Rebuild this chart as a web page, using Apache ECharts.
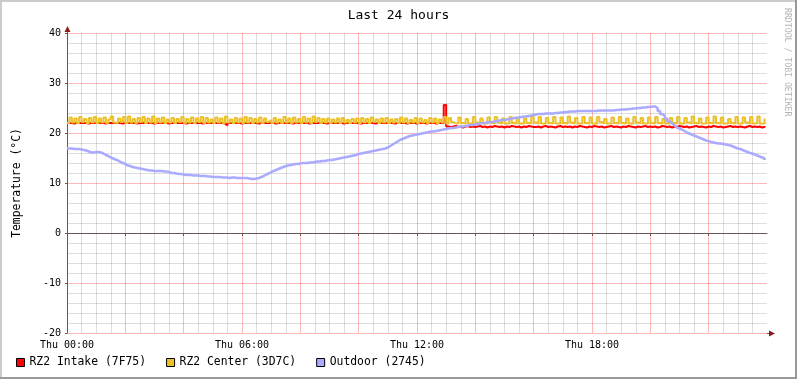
<!DOCTYPE html>
<html>
<head>
<meta charset="utf-8">
<script src="https://cdn.jsdelivr.net/npm/echarts@6/dist/echarts.min.js"></script>
<style>
html,body{margin:0;padding:0;background:#fff;}
#c{width:797px;height:379px;}
</style>
</head>
<body>
<div id="c"></div>
<script>
// ---- data (5-minute samples, 00:00 .. 23:55) ----
const titleText = 'Last 24 hours';
const yAxisTitle = 'Temperature (°C)';
const seriesNames = ['RZ2 Intake (7F75)', 'RZ2 Center (3D7C)', 'Outdoor (2745)'];
const xTickLabels = ['Thu 00:00', 'Thu 06:00', 'Thu 12:00', 'Thu 18:00'];
const stepMinutes = 5;

const intake = [
22.0,22.0,21.9,22.0,22.0,22.0,22.0,22.0,21.9,22.0,22.0,22.0,
22.0,22.0,22.0,21.9,22.0,22.0,22.0,22.0,22.0,22.0,21.9,22.0,
22.0,22.0,22.0,22.0,21.9,22.0,22.0,22.0,22.0,22.0,22.0,21.9,
22.0,22.0,22.0,22.0,22.0,21.9,22.0,22.0,22.0,22.0,22.0,22.0,
21.9,22.0,22.0,22.0,22.0,22.0,22.0,21.9,22.0,22.0,22.0,22.0,
22.0,22.0,22.0,22.0,21.9,21.5,22.0,22.0,22.0,22.0,22.0,21.9,
22.0,22.0,22.0,22.0,22.0,22.0,21.9,22.0,22.0,22.0,22.0,22.0,
22.0,21.9,22.0,22.0,22.0,22.0,22.0,22.0,21.9,22.0,22.0,22.0,
22.0,22.0,22.0,21.9,22.0,22.0,22.0,22.0,22.0,22.0,21.9,22.0,
22.0,22.0,22.0,22.0,22.0,21.9,22.0,22.0,22.0,22.0,22.0,22.0,
21.9,22.0,22.0,22.0,22.0,22.0,21.9,22.0,22.0,22.0,22.0,22.0,
22.0,22.0,21.9,22.0,22.0,22.0,22.0,21.9,22.0,22.0,22.0,21.9,
22.0,22.0,22.0,21.9,22.0,22.0,22.0,21.9,22.0,22.0,22.0,25.6,
21.3,21.2,21.3,21.4,21.2,21.3,21.1,21.3,21.4,21.2,21.3,21.2,
21.3,21.4,21.2,21.3,21.1,21.3,21.2,21.4,21.3,21.2,21.3,21.1,
21.3,21.2,21.4,21.3,21.2,21.3,21.1,21.3,21.2,21.4,21.3,21.2,
21.2,21.3,21.1,21.3,21.4,21.2,21.3,21.2,21.1,21.3,21.4,21.2,
21.3,21.2,21.3,21.1,21.3,21.2,21.4,21.3,21.2,21.1,21.3,21.2,
21.4,21.3,21.2,21.3,21.1,21.2,21.3,21.4,21.2,21.3,21.2,21.1,
21.3,21.2,21.4,21.3,21.2,21.1,21.3,21.2,21.3,21.4,21.2,21.3,
21.2,21.3,21.1,21.2,21.4,21.3,21.2,21.3,21.1,21.3,21.2,21.4,
21.3,21.2,21.3,21.1,21.2,21.3,21.4,21.2,21.3,21.2,21.1,21.3,
21.2,21.4,21.3,21.2,21.3,21.1,21.2,21.3,21.4,21.2,21.3,21.2,
21.3,21.2,21.1,21.3,21.4,21.2,21.3,21.2,21.3,21.1,21.2,21.4
];

const center = [
22.0,23.1,22.1,22.9,22.0,23.2,22.2,22.8,22.0,23.0,22.1,23.2,
22.0,22.9,22.1,23.1,22.0,22.7,23.3,22.1,22.0,22.9,22.2,23.2,
22.0,23.3,22.1,22.8,22.0,23.0,22.2,23.2,22.0,22.9,22.1,23.3,
22.0,22.9,22.1,23.1,22.0,22.7,22.1,23.0,22.0,22.8,22.2,23.2,
22.0,22.8,22.1,23.1,22.0,22.9,22.2,23.2,22.0,23.0,22.1,22.7,
22.0,23.1,22.1,22.9,22.0,23.3,22.1,22.7,22.0,23.0,22.1,22.9,
22.0,23.2,22.1,23.0,22.0,22.8,22.1,23.1,22.0,22.9,22.2,22.6,
22.0,23.0,22.1,22.7,22.0,23.2,22.1,22.9,22.0,23.1,22.1,22.8,
22.0,23.2,22.1,22.9,22.0,23.3,22.2,23.0,22.0,22.8,22.1,22.9,
22.0,22.7,22.1,22.9,22.0,23.0,22.1,22.6,22.0,22.8,22.1,22.9,
22.0,23.0,22.1,22.8,22.0,23.1,22.2,22.7,22.0,22.9,22.1,23.0,
22.0,22.7,22.1,22.8,22.0,23.1,22.1,22.9,22.0,22.6,22.1,23.0,
22.0,22.9,22.1,22.6,22.0,23.0,22.1,22.9,22.0,22.7,22.1,23.2,
21.9,23.0,22.2,21.9,21.9,23.1,22.0,21.9,22.8,21.9,21.9,23.2,
22.1,21.9,22.9,21.9,21.9,23.1,22.0,21.9,23.2,22.1,21.9,22.9,
21.9,21.9,23.2,22.0,21.9,23.1,21.9,21.9,22.9,22.0,21.9,23.3,
22.1,21.9,23.2,21.9,21.9,23.0,22.0,21.9,23.2,21.9,21.9,23.1,
22.0,21.9,23.3,22.1,21.9,23.0,21.9,21.9,23.2,22.0,21.9,23.1,
21.9,21.9,23.2,22.2,21.9,22.8,21.9,21.9,23.1,22.0,21.9,23.2,
22.0,21.9,22.9,21.9,21.9,23.2,22.1,21.9,23.0,21.9,21.9,23.1,
22.0,21.9,23.2,22.0,21.9,22.8,21.9,21.9,23.0,22.0,21.9,23.2,
21.9,21.9,23.0,22.1,21.9,23.3,22.0,21.9,22.9,21.9,21.9,23.1,
22.0,21.9,23.3,22.0,21.9,23.1,21.9,21.9,22.8,22.0,21.9,23.2,
21.9,21.9,23.1,22.1,21.9,23.2,21.9,22.0,23.3,21.9,21.9,22.9
];

const outdoor = [
16.9,16.9,16.8,16.8,16.8,16.7,16.6,16.5,16.3,16.1,16.1,16.2,
16.2,16.1,15.9,15.6,15.4,15.1,14.9,14.7,14.5,14.2,14.0,13.8,
13.5,13.4,13.2,13.1,13.0,12.9,12.8,12.7,12.6,12.5,12.5,12.4,
12.4,12.4,12.4,12.3,12.3,12.2,12.0,12.0,11.9,11.8,11.8,11.7,
11.6,11.6,11.6,11.5,11.5,11.5,11.4,11.4,11.4,11.3,11.3,11.2,
11.2,11.2,11.2,11.1,11.1,11.1,11.0,11.1,11.1,11.0,11.0,11.0,
11.0,11.0,10.9,10.8,10.8,10.9,11.0,11.2,11.4,11.7,11.9,12.2,
12.4,12.6,12.8,13.0,13.2,13.4,13.5,13.6,13.7,13.8,13.8,13.9,
14.0,14.0,14.0,14.1,14.1,14.2,14.3,14.3,14.4,14.4,14.5,14.6,
14.6,14.7,14.8,14.9,15.0,15.1,15.2,15.3,15.4,15.5,15.6,15.8,
15.9,16.0,16.1,16.2,16.3,16.4,16.5,16.6,16.7,16.8,16.9,17.1,
17.4,17.7,18.0,18.3,18.6,18.8,19.0,19.2,19.4,19.5,19.6,19.7,
19.8,19.9,20.0,20.1,20.2,20.3,20.3,20.4,20.5,20.6,20.7,20.8,
20.9,21.0,21.0,21.1,21.2,21.3,21.3,21.4,21.5,21.6,21.6,21.7,
21.8,21.9,22.0,22.0,22.1,22.2,22.2,22.3,22.4,22.5,22.6,22.6,
22.7,22.8,22.9,23.0,23.0,23.1,23.2,23.3,23.3,23.4,23.5,23.6,
23.7,23.8,23.8,23.8,23.9,23.9,23.9,23.9,24.0,24.0,24.1,24.1,
24.2,24.2,24.3,24.3,24.3,24.4,24.4,24.4,24.4,24.4,24.4,24.4,
24.4,24.4,24.5,24.5,24.5,24.5,24.5,24.5,24.5,24.6,24.6,24.7,
24.7,24.7,24.8,24.8,24.9,24.9,25.0,25.0,25.1,25.1,25.2,25.2,
25.3,25.3,25.0,24.4,23.8,23.4,22.9,22.3,21.9,21.5,21.1,20.9,
20.7,20.4,20.1,19.9,19.7,19.5,19.3,19.1,18.9,18.7,18.5,18.4,
18.2,18.1,18.0,17.9,17.9,17.8,17.7,17.6,17.5,17.3,17.1,16.9,
16.8,16.6,16.4,16.2,16.0,15.9,15.7,15.5,15.3,15.1,14.9,14.6
];

const colors = ['#ff0000', '#ecc027', '#aaaaff'];
const mono = 'DejaVu Sans Mono';

function toPairs(arr) {
  return arr.map((v, i) => [i * stepMinutes / 60, v]);
}

const chart = echarts.init(document.getElementById('c'), null, { renderer: 'canvas' });

const axisColor = '#665858';
const majorGrid = 'rgba(255,0,0,0.28)';
const minorGrid = 'rgba(128,128,128,0.27)';

const option = {
  animation: false,
  backgroundColor: '#ffffff',
  title: {
    text: titleText, left: 'center', top: 9, padding: 0,
    textStyle: { fontFamily: mono, fontSize: 13, fontWeight: 'normal', color: '#000' }
  },
  legend: {
    left: 16, top: 357, padding: 0, itemGap: 20,
    itemWidth: 8, itemHeight: 8, icon: 'rect',
    itemStyle: { borderColor: '#000', borderWidth: 1 },
    textStyle: { fontFamily: mono, fontSize: 11.4, color: '#000' },
    data: seriesNames
  },
  grid: { left: 67, top: 33, width: 700, height: 300, containLabel: false },
  xAxis: {
    type: 'value', min: 0, max: 24, interval: 2,
    axisLine: { show: true, lineStyle: { color: axisColor, width: 1 } },
    axisTick: { show: true, length: 3, lineStyle: { color: axisColor } },
    axisLabel: {
      fontFamily: mono, fontSize: 10, color: '#000', margin: 7,
      showMaxLabel: false,
      formatter: function (v) { return (v % 6 === 0 && v < 24) ? xTickLabels[v / 6] : ''; }
    },
    splitLine: { show: true, showMaxLine: false, lineStyle: { color: majorGrid, width: 1 } },
    minorTick: { show: false, splitNumber: 4 },
    minorSplitLine: { show: true, lineStyle: { color: minorGrid, width: 1 } }
  },
  yAxis: {
    type: 'value', min: -20, max: 40, interval: 10,
    name: yAxisTitle, nameLocation: 'middle', nameGap: 44,
    nameTextStyle: { fontFamily: mono, fontSize: 11.4, color: '#000' },
    axisLine: { show: true, lineStyle: { color: axisColor, width: 1 } },
    axisTick: { show: true, length: 2, lineStyle: { color: axisColor } },
    axisLabel: { fontFamily: mono, fontSize: 10, color: '#000', margin: 6 },
    splitLine: { show: true, lineStyle: { color: majorGrid, width: 1 } },
    minorTick: { show: false, splitNumber: 5 },
    minorSplitLine: { show: true, lineStyle: { color: minorGrid, width: 1 } }
  },
  series: [
    { name: seriesNames[0], type: 'line', step: 'end', showSymbol: false, color: colors[0],
      lineStyle: { width: 2, color: colors[0] }, data: toPairs(intake) },
    { name: seriesNames[1], type: 'line', step: 'end', showSymbol: false, color: colors[1],
      lineStyle: { width: 2, color: colors[1] }, data: toPairs(center) },
    { name: seriesNames[2], type: 'line', step: 'end', showSymbol: false, color: colors[2],
      lineStyle: { width: 2.5, color: colors[2] }, data: toPairs(outdoor) }
  ]
};
chart.setOption(option);

// decorations: arrows, frame shading, watermark
const pEnd = chart.convertToPixel({ gridIndex: 0 }, [24, -20]);
const pOrig = chart.convertToPixel({ gridIndex: 0 }, [0, -20]);
const pTop = chart.convertToPixel({ gridIndex: 0 }, [0, 40]);
const ax = Math.round(pOrig[0]) + 0.5;
const ay = Math.round(pOrig[1]) + 0.5;
const arrowColor = '#8a1c1c';
chart.setOption({
  graphic: [
    { type: 'line', shape: { x1: pEnd[0], y1: ay, x2: pEnd[0] + 4, y2: ay }, style: { stroke: axisColor, lineWidth: 1 } },
    { type: 'polygon', shape: { points: [[pEnd[0] + 2, ay - 3], [pEnd[0] + 8, ay], [pEnd[0] + 2, ay + 3]] }, style: { fill: arrowColor } },
    { type: 'line', shape: { x1: ax, y1: pTop[1], x2: ax, y2: pTop[1] - 4 }, style: { stroke: axisColor, lineWidth: 1 } },
    { type: 'polygon', shape: { points: [[ax - 3, pTop[1] - 1], [ax, pTop[1] - 7], [ax + 3, pTop[1] - 1]] }, style: { fill: arrowColor } },
    { type: 'text', x: 787, y: 8, rotation: -Math.PI / 2,
      style: { text: 'RRDTOOL / TOBI OETIKER', fontFamily: mono, fontSize: 8.2, fill: '#b4b4b4', align: 'left', verticalAlign: 'middle' } },
    { type: 'rect', shape: { x: 0, y: 0, width: 797, height: 2 }, style: { fill: '#cbcbcb' } },
    { type: 'rect', shape: { x: 0, y: 0, width: 2, height: 379 }, style: { fill: '#cbcbcb' } },
    { type: 'rect', shape: { x: 0, y: 377, width: 797, height: 2 }, style: { fill: '#999999' } },
    { type: 'rect', shape: { x: 795, y: 0, width: 2, height: 379 }, style: { fill: '#999999' } }
  ]
});
</script>
</body>
</html>
